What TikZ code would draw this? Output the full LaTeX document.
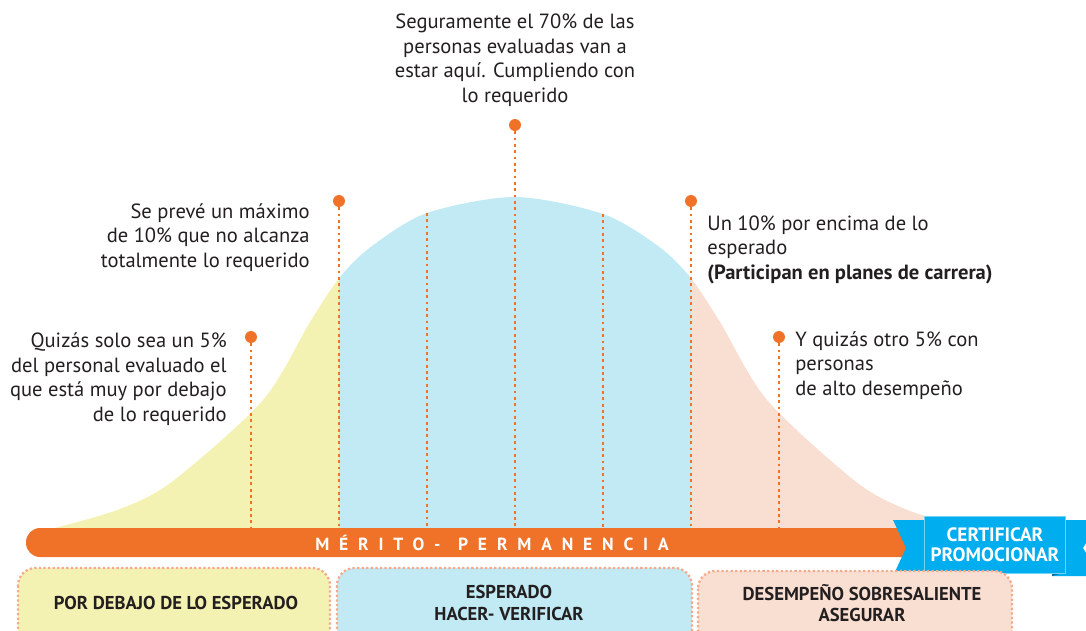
\documentclass[tikz,border=0pt]{standalone}
\usepackage{fontspec}
\setmainfont{PT Sans}
\usepackage{tikz}
\usetikzlibrary{positioning}
\definecolor{naranja}{RGB}{240,114,41}
\definecolor{amarillo}{RGB}{244,242,179}
\definecolor{celeste}{RGB}{193,234,244}
\definecolor{rosa}{RGB}{249,222,210}
\definecolor{azul}{RGB}{0,174,239}
\definecolor{azuloscuro}{RGB}{0,110,160}
\definecolor{salmon}{RGB}{247,169,140}
\definecolor{tinta}{RGB}{35,31,32}

\begin{document}
\begin{tikzpicture}[x=0.02cm,y=-0.02cm,
	guia/.style={naranja,line width=1.6pt,dash pattern=on 1.6pt off 2pt},
	pin/.style={circle,fill=naranja,inner sep=0pt,minimum size=6.8pt},
	nota/.style={font=\fontsize{11.7}{13.9}\selectfont,text=tinta,inner sep=0pt},
	caja/.style={draw=salmon,line width=1.3pt,dash pattern=on 1.3pt off 1.3pt,rounded corners=10pt},
	etiqueta/.style={font=\bfseries\fontsize{10.6}{12}\selectfont,text=tinta,align=center,inner sep=0pt}]
						\clip (0,0) rectangle (1086,630);
						\begin{scope}
							\clip plot[smooth] coordinates {(55,528) (120,509) (173,481) (263,400) (310,322) (340,277) (372,246) (427,213) (515,197) (603,214) (658,246) (690,277) (720,322) (767,400) (855,481) (905,509) (965,528)} -- cycle;
							\fill[amarillo] (0,150) rectangle (339,528);
							\fill[celeste] (339,150) rectangle (691,528);
							\fill[rosa] (691,150) rectangle (1000,528);
						\end{scope}
						\node[pin] (p1) at (251,337) {}; \node[pin] (p2) at (339,201) {}; \node[pin] (p3) at (515,125) {};
						\node[pin] (p4) at (691,201) {}; \node[pin] (p5) at (779,337) {};
						\coordinate (c1) at (427,213); \coordinate (c2) at (603,214);
						\coordinate (b1) at (251,527); \coordinate (b2) at (339,527); \coordinate (b3) at (515,527);
						\coordinate (b4) at (691,527); \coordinate (b5) at (779,527);
						\coordinate (b6) at (427,527); \coordinate (b7) at (603,527);
						\draw[guia] (p1) -- (b1); \draw[guia] (p2) -- (b2); \draw[guia] (p3) -- (b3);
						\draw[guia] (p4) -- (b4); \draw[guia] (p5) -- (b5);
						\draw[guia] (c1) -- (b6); \draw[guia] (c2) -- (b7);
						\node[nota,align=center,anchor=base] (n3) at (515,102) {Seguramente el 70\% de las\\personas evaluadas van a\\estar aquí. Cumpliendo con\\lo requerido};
						\node[nota,align=right,anchor=base east] (n2) at (310,267) {Se prevé un máximo\\de 10\% que no alcanza\\totalmente lo requerido};
						\node[nota,align=right,anchor=base east] (n1) at (227,421) {Quizás solo sea un 5\%\\del personal evaluado el\\que está muy por debajo\\de lo requerido};
						\node[nota,align=left,anchor=base west] (n4) at (707,279) {Un 10\% por encima de lo\\esperado\\\textbf{(Participan en planes de carrera)}};
						\node[nota,align=left,anchor=base west] (n5) at (795,395) {Y quizás otro 5\% con\\personas\\de alto desempeño};
						\fill[naranja,rounded corners=8pt] (26,528) rectangle (915,557);
						\node[font=\bfseries\fontsize{10}{12}\selectfont\addfontfeature{LetterSpace=56},text=white,inner sep=0pt] (merito) at (492,543) {MÉRITO-\hspace{10pt}PERMANENCIA};
						\fill[azul] (893,520) -- (925,520) -- (925,576) -- (893,576) -- (906,548) -- cycle;
						\fill[azul] (1052,520) -- (1100,520) -- (1083,548) -- (1100,576) -- (1052,576) -- cycle;
						\fill[azuloscuro] (925,573) -- (940,573) -- (940,576) -- cycle;
						\fill[azuloscuro] (1052,573) -- (1063,573) -- (1052,576) -- cycle;
						\node[fill=azul,draw=white!45!azul,line width=0.6pt,minimum width=79pt,minimum height=32pt,font=\bfseries\fontsize{11}{11.5}\selectfont,text=white,align=center] (tag) at (995,545) {CERTIFICAR\\PROMOCIONAR};
						\draw[caja,fill=amarillo] (18,568) rectangle (330,660);
						\draw[caja,fill=celeste] (337,568) rectangle (692,660);
						\draw[caja,fill=rosa] (698,571) rectangle (1012,660);
						\node[etiqueta] (bajo) at (176,603) {POR DEBAJO DE LO ESPERADO};
						\node[etiqueta] (medio) at (509,603) {ESPERADO\\HACER- VERIFICAR};
						\node[etiqueta] (alto) at (862,603) {DESEMPEÑO SOBRESALIENTE\\ASEGURAR};
					\end{tikzpicture}
\end{document}
